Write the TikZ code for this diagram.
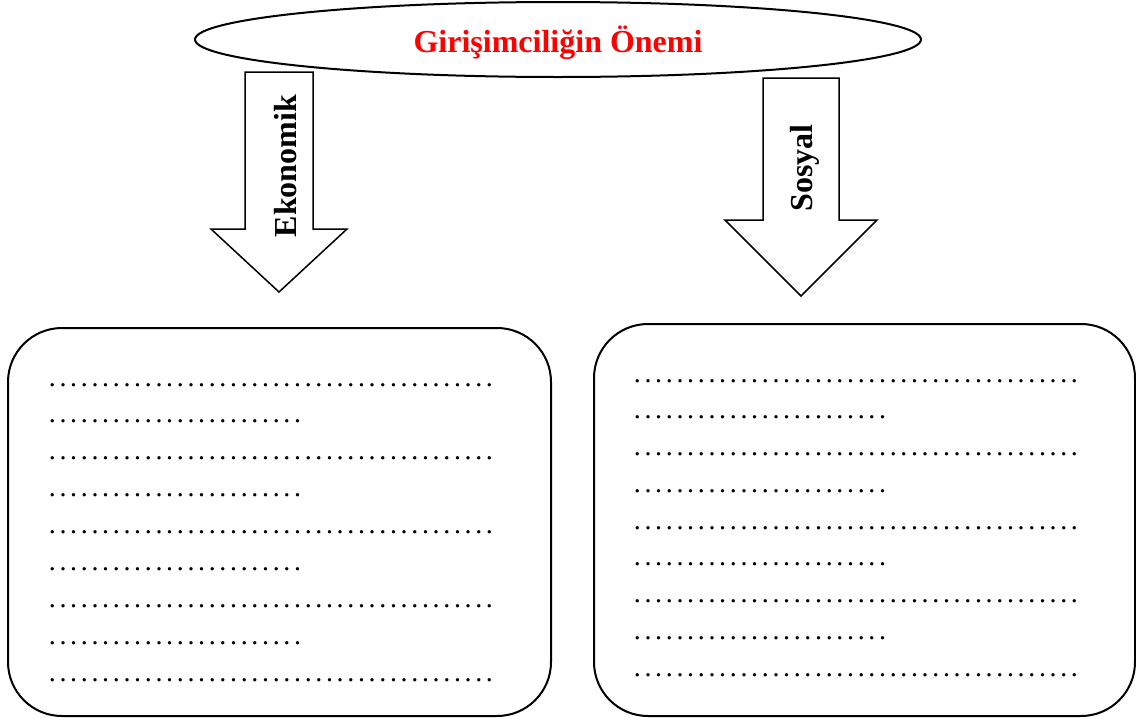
\documentclass[tikz,border=0pt]{standalone}
\usepackage{fontspec}
\setmainfont{Liberation Serif}
\usetikzlibrary{shapes.geometric,positioning}

\newcommand{\dotrow}[1]{\foreach \k in {1,...,#1}{\makebox[5.33pt]{.}}}

\begin{document}
\begin{tikzpicture}
  [x=0.5pt,y=-0.5pt,
   blockarrow/.style={draw=black, line width=0.75pt, fill=white},
   infobox/.style={draw=black, line width=1pt, rounded corners=27pt, inner sep=0pt},
   label/.style={font=\fontsize{16}{19}\selectfont\bfseries},
   dotrowtext/.style={anchor=base west, inner sep=0pt, font=\fontsize{14}{16}\selectfont}]
  \useasboundingbox (0,0) rectangle (1136,718);

  % title
  \node [ellipse, draw=black, line width=1pt, minimum width=363pt, minimum height=37.5pt,
         inner sep=0pt] (title) at (558,39.5) {};
  \node [label, text=red] (titletext) at ([yshift=-1.5pt]title.center) {Girişimciliğin Önemi};

  % block arrows
  \draw [blockarrow] (245,72) -- (313,72) -- (313,229) -- (347,229) -- (279,292)
        -- (211,229) -- (245,229) -- cycle;
  \draw [blockarrow] (763,78) -- (839,78) -- (839,220) -- (877,220) -- (801,296)
        -- (725,220) -- (763,220) -- cycle;
  \node [label, rotate=90] (eko) at (286,166) {Ekonomik};
  \node [label, rotate=90] (sos) at (805,168) {Sosyal};

  % boxes
  \node [infobox, minimum width=271.5pt, minimum height=194pt] (leftbox) at (279.5,522) {};
  \node [infobox, minimum width=270.5pt, minimum height=196pt] (rightbox) at (864.5,520) {};

  \foreach \i in {0,...,8} {
    \pgfmathtruncatemacro\n{mod(\i,2)==0 ? 42 : 24}
    \node [dotrowtext] (ldots\i) at (46.7, 386+36.9*\i) {\dotrow{\n}};
    \node [dotrowtext] (rdots\i) at (631.7, 382+36.75*\i) {\dotrow{\n}};
  }
\end{tikzpicture}
\end{document}
